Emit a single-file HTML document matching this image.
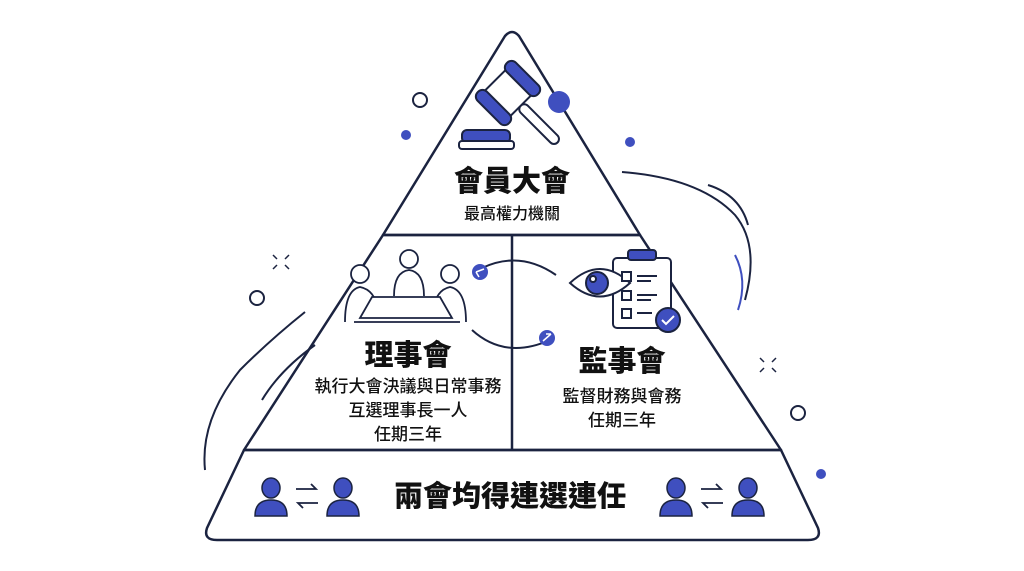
<!DOCTYPE html>
<html><head><meta charset="utf-8"><style>
body{margin:0;background:#fff;width:1024px;height:571px;overflow:hidden}
svg{display:block}
text{font-family:"Liberation Sans","Noto Sans CJK TC",sans-serif;fill:#111;text-anchor:middle}
.b{font-weight:900}
.m{font-weight:500}
</style></head><body>
<svg width="1024" height="571" viewBox="0 0 1024 571" xmlns="http://www.w3.org/2000/svg">
<g fill="none" stroke="#1b2340" stroke-width="2.5" stroke-linejoin="round">
<path d="M505 36 Q512 28 519 36 L640 235 L383 235 Z"/>
<path d="M383 235 L640 235 L781 450 L244 450 Z"/>
<line x1="512" y1="235" x2="512" y2="450"/>
<path d="M244 450 L781 450 L818 528 Q822 540 808 540 L217 540 Q203 540 207 528 Z"/>
</g>
<g fill="none" stroke="#1b2340" stroke-width="2">
<path d="M622 172 Q700 178 735 215 Q760 245 745 300"/>
<path d="M708 185 Q740 195 748 225"/>
<path d="M305 312 Q270 340 240 370 Q200 420 205 470"/>
<path d="M315 345 Q280 370 262 400"/>
<path d="M472 330 Q505 360 550 340"/>
<path d="M556 275 Q520 250 482 268"/>
</g>
<path d="M735 255 Q748 280 738 310" fill="none" stroke="#3f4fbf" stroke-width="2"/>
<g fill="#3f4fbf">
<circle cx="559" cy="102" r="11"/>
<circle cx="406" cy="135" r="5"/>
<circle cx="630" cy="142" r="5"/>
<circle cx="821" cy="474" r="5"/>
<circle cx="480" cy="272" r="8"/>
<circle cx="547" cy="338" r="8"/>
</g>
<g stroke="#fff" stroke-width="1.5" fill="none"><path d="M476 272l8-3M476 272l3 5"/><path d="M543 341l8-7M551 334l-5 0"/></g>
<g fill="none" stroke="#1b2340" stroke-width="2">
<circle cx="420" cy="100" r="7"/>
<circle cx="257" cy="298" r="7"/>
<circle cx="798" cy="413" r="7"/>
</g>
<g stroke="#1b2340" stroke-width="1.5">
<path d="M273 255l4 4M289 255l-4 4M273 269l4-4M289 269l-4-4"/>
<path d="M760 358l4 4M776 358l-4 4M760 372l4-4M776 372l-4-4"/>
</g>
<!-- gavel -->
<g stroke="#1b2340" stroke-width="2" stroke-linejoin="round">
<rect x="462" y="130" width="48" height="13" rx="5" fill="#3f4fbf"/>
<rect x="459" y="141" width="55" height="8" rx="3" fill="#fff"/>
<g transform="rotate(45 508 93)">
<rect x="526" y="88" width="52" height="10" rx="5" fill="#fff"/>
<rect x="490" y="78" width="36" height="30" fill="#fff"/>
<rect x="486" y="66" width="44" height="13" rx="6" fill="#3f4fbf"/>
<rect x="486" y="107" width="44" height="13" rx="6" fill="#3f4fbf"/>
</g>
</g>
<!-- meeting icon -->
<g fill="#fff" stroke="#1b2340" stroke-width="1.8">
<circle cx="360" cy="274" r="9"/><circle cx="409" cy="259" r="9"/><circle cx="450" cy="274" r="9"/>
<path d="M345 322 Q345 290 360 287 Q375 290 378 310"/>
<path d="M394 296 Q394 272 409 270 Q424 272 424 296"/>
<path d="M466 322 Q466 290 450 287 Q436 290 433 310"/>
<path d="M372 297 L440 297 L452 318 L360 318 Z"/>
<path d="M354 322 L460 322"/>
</g>
<!-- clipboard eye -->
<g stroke="#1b2340" stroke-width="2">
<rect x="613" y="258" width="58" height="70" rx="4" fill="#fff"/>
<rect x="628" y="250" width="28" height="10" rx="3" fill="#3f4fbf"/>
<path d="M570 283 Q600 255 630 283 Q600 310 570 283 Z" fill="#fff"/>
<circle cx="597" cy="283" r="11" fill="#3f4fbf"/>
<circle cx="593" cy="279" r="3" fill="#fff"/>
<rect x="622" y="272" width="9" height="9" fill="#fff"/><rect x="622" y="291" width="9" height="9" fill="#fff"/><rect x="622" y="309" width="9" height="9" fill="#fff"/>
<path d="M637 276h20M637 281h14M637 295h20M637 300h14M637 313h15"/>
<circle cx="668" cy="320" r="12" fill="#3f4fbf"/>
<path d="M662 320l4 4 8-8" stroke="#fff" fill="none"/>
</g>
<defs><g id="pp">
<ellipse cx="0" cy="-10" rx="9" ry="10" fill="#3f4fbf" stroke="#1b2340" stroke-width="1.5"/>
<path d="M-16 18 Q-16 2 0 2 Q16 2 16 18 Z" fill="#3f4fbf" stroke="#1b2340" stroke-width="1.5"/>
</g>
<g id="ar" stroke="#1b2340" stroke-width="1.8" fill="none"><path d="M-11 -7h20l-5-5M11 7h-20l5 5"/></g></defs>
<use href="#pp" x="271" y="498"/><use href="#ar" x="307" y="496"/><use href="#pp" x="343" y="498"/>
<use href="#pp" x="676" y="498"/><use href="#ar" x="712" y="496"/><use href="#pp" x="748" y="498"/>
<text x="512" y="191" class="b" font-size="29">會員大會</text>
<text x="512" y="219" class="m" font-size="16">最高權力機關</text>
<text x="408" y="365" class="b" font-size="29">理事會</text>
<text x="408" y="392" class="m" font-size="17">執行大會決議與日常事務</text>
<text x="408" y="416" class="m" font-size="17">互選理事長一人</text>
<text x="408" y="440" class="m" font-size="17">任期三年</text>
<text x="622" y="371" class="b" font-size="29">監事會</text>
<text x="622" y="402" class="m" font-size="17">監督財務與會務</text>
<text x="622" y="426" class="m" font-size="17">任期三年</text>
<text x="510" y="506" class="b" font-size="29">兩會均得連選連任</text>
</svg>
</body></html>
